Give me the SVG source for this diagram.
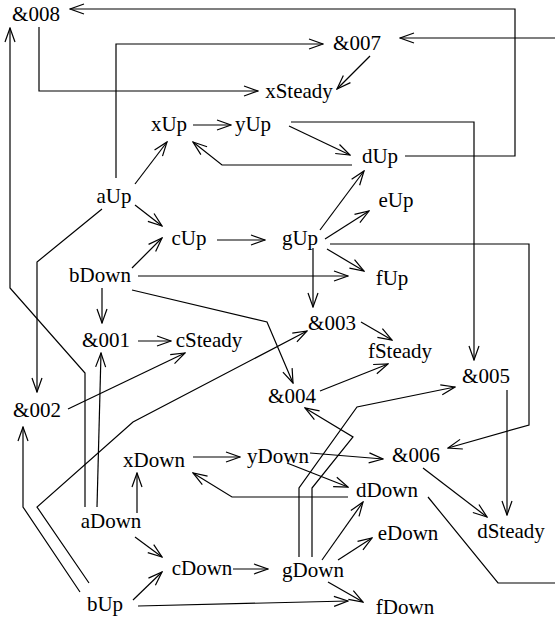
<svg xmlns="http://www.w3.org/2000/svg" width="555" height="620" viewBox="0 0 555 620">
<style>
text{font-family:"Liberation Serif","Times New Roman",serif;font-size:21px;fill:#000;text-anchor:middle}
.e path{fill:none;stroke:#000;stroke-width:1.2}
.a{marker-end:url(#arr)}
</style>
<defs>
<marker id="arr" viewBox="-15 -6 16 12" markerWidth="16" markerHeight="12" refX="0" refY="0" orient="auto" markerUnits="userSpaceOnUse">
<path d="M-14,-5 L0,0 L-14,5" fill="none" stroke="#000" stroke-width="1.2"/>
</marker>
</defs>
<rect width="555" height="620" fill="#fff"/>
<g class="e" id="connectors">
<path class="a" d="M405,156 H515 V9 H70"/>
<path class="a" d="M555,38 H400"/>
<path class="a" d="M116,178 V44 H323"/>
<path class="a" d="M39,27 V91 H258"/>
<path class="a" d="M370,56 L337,89"/>
<path class="a" d="M193,125 H231"/>
<path class="a" d="M352,165 H222 L193,142"/>
<path class="a" d="M289,126 L350,155"/>
<path class="a" d="M291,122 H474 V360"/>
<path class="a" d="M135,184 L167,142"/>
<path class="a" d="M135,205 L162,226"/>
<path class="a" d="M102,209 L37,262 V392"/>
<path class="a" d="M217,240 H265"/>
<path class="a" d="M132,268 L162,238"/>
<path class="a" d="M138,276 H348"/>
<path class="a" d="M132,290 L267,322 L293,383"/>
<path class="a" d="M102,288 V323"/>
<path class="a" d="M138,341 H171"/>
<path class="a" d="M68,409 L185,353"/>
<path class="a" d="M97,507 L101,353"/>
<path class="a" d="M85,507 V373 L10,288 V28"/>
<path class="a" d="M80,592 L23,507 V427"/>
<path class="a" d="M89,583 L37,507 L133,422 L307,331"/>
<path class="a" d="M137,513 V473"/>
<path class="a" d="M135,537 L162,557"/>
<path class="a" d="M133,600 L162,572"/>
<path class="a" d="M138,606 L348,601"/>
<path class="a" d="M233,569 H268"/>
<path class="a" d="M193,457 H240"/>
<path class="a" d="M348,497 H232 L193,473"/>
<path class="a" d="M310,453 L383,459"/>
<path class="a" d="M287,463 L348,487"/>
<path class="a" d="M299,557 V488 L357,407 L455,387"/>
<path class="a" d="M312,557 V488 L353,437 L305,408"/>
<path class="a" d="M322,560 L363,502"/>
<path class="a" d="M338,560 L372,538"/>
<path class="a" d="M328,582 L363,602"/>
<path class="a" d="M423,468 L487,517"/>
<path class="a" d="M507,390 V515"/>
<path class="a" d="M330,244 H529 V425 L448,448"/>
<path d="M428,497 L498,583 H555"/>
<path class="a" d="M320,230 L364,171"/>
<path class="a" d="M325,239 L369,211"/>
<path class="a" d="M327,249 L364,271"/>
<path class="a" d="M313,248 V307"/>
<path class="a" d="M361,322 L392,340"/>
<path class="a" d="M320,391 L388,364"/>
</g>
<g id="n008"><text x="36" y="21">&amp;008</text></g>
<g id="n007"><text x="357" y="50">&amp;007</text></g>
<g id="xSteady"><text x="299" y="98">xSteady</text></g>
<g id="xUp"><text x="169" y="131">xUp</text></g>
<g id="yUp"><text x="253" y="131">yUp</text></g>
<g id="dUp"><text x="380" y="163">dUp</text></g>
<g id="aUp"><text x="114" y="203">aUp</text></g>
<g id="eUp"><text x="396" y="207">eUp</text></g>
<g id="cUp"><text x="189" y="245">cUp</text></g>
<g id="gUp"><text x="300" y="245">gUp</text></g>
<g id="bDown"><text x="100" y="282">bDown</text></g>
<g id="fUp"><text x="392" y="285">fUp</text></g>
<g id="n001"><text x="106" y="347">&amp;001</text></g>
<g id="cSteady"><text x="209" y="347">cSteady</text></g>
<g id="n003"><text x="332" y="330">&amp;003</text></g>
<g id="fSteady"><text x="400" y="358">fSteady</text></g>
<g id="n005"><text x="486" y="383">&amp;005</text></g>
<g id="n002"><text x="37" y="417">&amp;002</text></g>
<g id="n004"><text x="292" y="403">&amp;004</text></g>
<g id="xDown"><text x="154" y="467">xDown</text></g>
<g id="yDown"><text x="278" y="463">yDown</text></g>
<g id="n006"><text x="416" y="462">&amp;006</text></g>
<g id="dDown"><text x="387" y="497">dDown</text></g>
<g id="aDown"><text x="111" y="528">aDown</text></g>
<g id="eDown"><text x="408" y="540">eDown</text></g>
<g id="dSteady"><text x="511" y="538">dSteady</text></g>
<g id="cDown"><text x="202" y="575">cDown</text></g>
<g id="gDown"><text x="313" y="577">gDown</text></g>
<g id="bUp"><text x="105" y="611">bUp</text></g>
<g id="fDown"><text x="405" y="614">fDown</text></g>
</svg>
